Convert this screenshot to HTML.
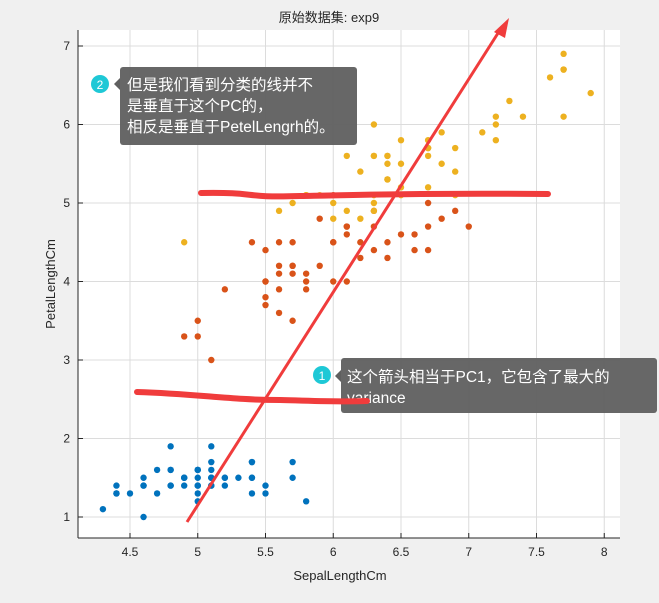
<!DOCTYPE html>
<html><head><meta charset="utf-8"><style>
html,body{margin:0;padding:0;background:#f0f0f0;}
svg{display:block;font-family:"Liberation Sans","Noto Sans CJK SC",sans-serif;}
</style></head><body>
<svg id="s" width="659" height="603" xmlns="http://www.w3.org/2000/svg">
<rect x="0" y="0" width="659" height="603" fill="#f0f0f0"/>
<rect x="78" y="30" width="542" height="508" fill="#fff"/>
<g id="grid" stroke="#dcdcdc" stroke-width="1"></g>
<g id="pts"></g>
<line x1="78" y1="30" x2="78" y2="538" stroke="#262626"/>
<line x1="78" y1="538" x2="620" y2="538" stroke="#262626"/>
<g id="ticks" font-size="12" fill="#262626"></g>
<text x="329" y="22" font-size="13" text-anchor="middle" fill="#262626">原始数据集: exp9</text>
<text x="340" y="580" font-size="13" text-anchor="middle" fill="#262626">SepalLengthCm</text>
<text transform="translate(55,284) rotate(-90)" font-size="13" text-anchor="middle" fill="#262626">PetalLengthCm</text>
<path d="M201,193 C260,192 240,198 300,196 C360,195 420,193 548,194" stroke="#f03c3c" stroke-width="6" fill="none" stroke-linecap="round"/>
<line x1="187" y1="522" x2="500" y2="30" stroke="#f03c3c" stroke-width="3"/>
<polygon points="509,18 494,32 505,38" fill="#f03c3c"/>
<!-- callouts -->
<rect x="120" y="67" width="237" height="78" rx="3" fill="#5f5f5f" opacity="0.95"/>
<polygon points="120,78 114,84 120,90" fill="#5f5f5f"/>
<circle cx="100" cy="84" r="9" fill="#1ec8d6"/>
<text x="100" y="89" font-size="12" fill="#fff" text-anchor="middle">2</text>
<g font-size="15.5" fill="#fff">
<text x="127" y="90">但是我们看到分类的线并不</text>
<text x="127" y="111">是垂直于这个PC的，</text>
<text x="127" y="132">相反是垂直于PetelLengrh的。</text>
</g>
<rect x="341" y="358" width="316" height="55" rx="3" fill="#5f5f5f" opacity="0.95"/>
<polygon points="341,370 335,376 341,382" fill="#5f5f5f"/>
<circle cx="322" cy="375" r="9" fill="#1ec8d6"/>
<text x="322" y="380" font-size="12" fill="#fff" text-anchor="middle">1</text>
<g font-size="15.5" fill="#fff">
<text x="347" y="382">这个箭头相当于PC1，它包含了最大的</text>
<text x="347" y="403">variance</text>
</g>
<path d="M137,392 C200,394 230,400 280,400 C320,401 340,402 367,401" stroke="#f03c3c" stroke-width="6" fill="none" stroke-linecap="round"/>
</svg>
<script>
var NS="http://www.w3.org/2000/svg";
function X(v){return 130+(v-4.5)*135.5;}
function Y(v){return 517-(v-1)*78.5;}
var g=document.getElementById('grid'),t=document.getElementById('ticks'),p=document.getElementById('pts');
function el(par,n,a,txt){var e=document.createElementNS(NS,n);for(var k in a)e.setAttribute(k,a[k]);if(txt)e.textContent=txt;par.appendChild(e);}
[4.5,5,5.5,6,6.5,7,7.5,8].forEach(function(v){var x=X(v);el(g,'line',{x1:x,y1:30,x2:x,y2:538});el(t,'line',{x1:x,y1:538,x2:x,y2:533,stroke:'#262626'});el(t,'text',{x:x,y:556,'text-anchor':'middle'},String(v));});
[1,2,3,4,5,6,7].forEach(function(v){var y=Y(v);el(g,'line',{x1:78,y1:y,x2:620,y2:y});el(t,'line',{x1:78,y1:y,x2:83,y2:y,stroke:'#262626'});el(t,'text',{x:70,y:y+4,'text-anchor':'end'},String(v));});
var s=[5.1,1.4,4.9,1.4,4.7,1.3,4.6,1.5,5.0,1.4,5.4,1.7,4.6,1.4,5.0,1.5,4.4,1.4,4.9,1.5,5.4,1.5,4.8,1.6,4.8,1.4,4.3,1.1,5.8,1.2,5.7,1.5,5.4,1.3,5.1,1.4,5.7,1.7,5.1,1.5,5.4,1.7,5.1,1.5,4.6,1.0,5.1,1.7,4.8,1.9,5.0,1.6,5.0,1.6,5.2,1.5,5.2,1.4,4.7,1.6,4.8,1.6,5.4,1.5,5.2,1.5,5.5,1.4,4.9,1.5,5.0,1.2,5.5,1.3,4.9,1.5,4.4,1.3,5.1,1.5,5.0,1.3,4.5,1.3,4.4,1.3,5.0,1.6,5.1,1.9,4.8,1.4,5.1,1.6,4.6,1.4,5.3,1.5,5.0,1.4];
var v=[7.0,4.7,6.4,4.5,6.9,4.9,5.5,4.0,6.5,4.6,5.7,4.5,6.3,4.7,4.9,3.3,6.6,4.6,5.2,3.9,5.0,3.5,5.9,4.2,6.0,4.0,6.1,4.7,5.6,3.6,6.7,4.4,5.6,4.5,5.8,4.1,6.2,4.5,5.6,3.9,5.9,4.8,6.1,4.0,6.3,4.9,6.1,4.7,6.4,4.3,6.6,4.4,6.8,4.8,6.7,5.0,6.0,4.5,5.7,3.5,5.5,3.8,5.5,3.7,5.8,3.9,6.0,5.1,5.4,4.5,6.0,4.5,6.7,4.7,6.3,4.4,5.6,4.1,5.5,4.0,5.5,4.4,6.1,4.6,5.8,4.0,5.0,3.3,5.6,4.2,5.7,4.2,5.7,4.2,6.2,4.3,5.1,3.0,5.7,4.1];
var r=[6.3,6.0,5.8,5.1,7.1,5.9,6.3,5.6,6.5,5.8,7.6,6.6,4.9,4.5,7.3,6.3,6.7,5.8,7.2,6.1,6.5,5.1,6.4,5.3,6.8,5.5,5.7,5.0,5.8,5.1,6.4,5.3,6.5,5.5,7.7,6.7,7.7,6.9,6.0,5.0,6.9,5.7,5.6,4.9,7.7,6.7,6.3,4.9,6.7,5.7,7.2,6.0,6.2,4.8,6.1,4.9,6.4,5.6,7.2,5.8,7.4,6.1,7.9,6.4,6.4,5.6,6.3,5.1,6.1,5.6,7.7,6.1,6.3,5.6,6.4,5.5,6.0,4.8,6.9,5.4,6.7,5.6,6.9,5.1,5.8,5.1,6.8,5.9,6.7,5.7,6.7,5.2,6.3,5.0,6.5,5.2,6.2,5.4,5.9,5.1];
[[s,'#0072BD'],[v,'#D95319'],[r,'#EDB120']].forEach(function(a){for(var i=0;i<a[0].length;i+=2)el(p,'circle',{cx:X(a[0][i]),cy:Y(a[0][i+1]),r:3.2,fill:a[1]});});
</script>
</body></html>
